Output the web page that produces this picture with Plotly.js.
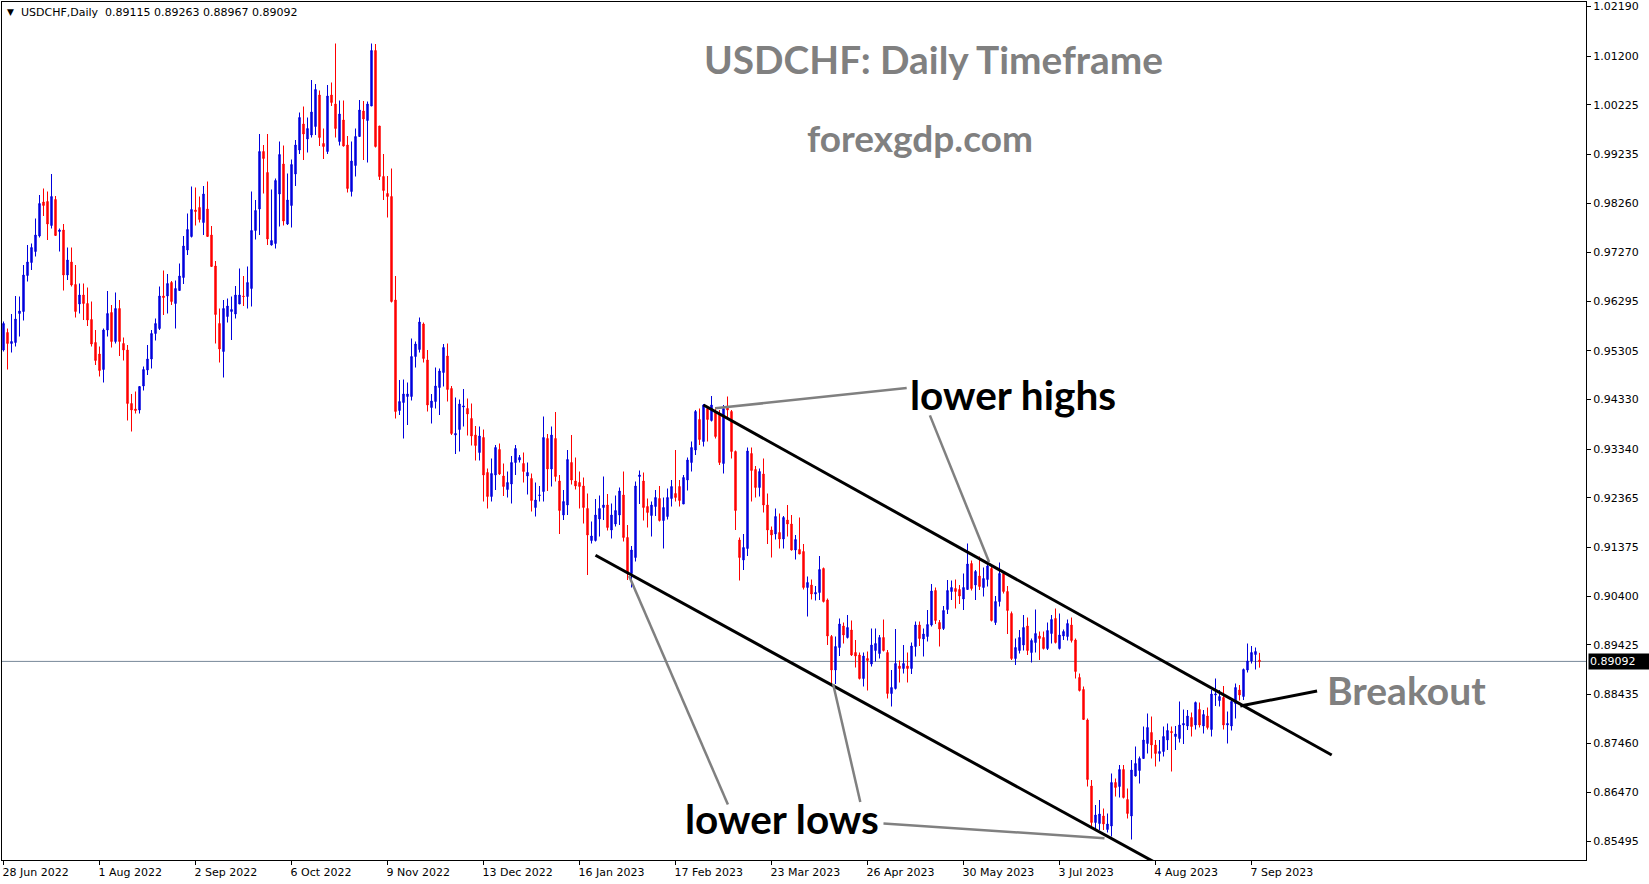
<!DOCTYPE html>
<html>
<head>
<meta charset="utf-8">
<script src="https://cdn.plot.ly/plotly-3.0.1.min.js"></script>
<style>
html,body{margin:0;padding:0;background:#fff;}
#chart{width:1649px;height:884px;}
</style>
</head>
<body>
<div id="chart"></div>
<script>
// ---- Data: USDCHF daily bars (bar 0 = 28 Jun 2022) ----
const opens = [
0.9532,0.9567,0.9545,0.9547,0.9605,0.9609,0.9681,0.9707,0.9729,0.9760,
0.9828,0.9829,0.9781,0.9833,0.9769,0.9772,0.9682,0.9708,0.9663,0.9624,
0.9642,0.9625,0.9593,0.9547,0.9524,0.9493,0.9572,0.9607,0.9549,0.9615,
0.9545,0.9532,0.9425,0.9414,0.9412,0.9460,0.9492,0.9514,0.9565,0.9575,
0.9640,0.9640,0.9667,0.9625,0.9651,0.9677,0.9732,0.9759,0.9812,0.9817,
0.9787,0.9814,0.9762,0.9700,0.9585,0.9529,0.9599,0.9609,0.9604,0.9624,
0.9640,0.9639,0.9655,0.9771,0.9814,0.9929,0.9887,0.9742,0.9745,0.9844,
0.9904,0.9784,0.9821,0.9884,0.9932,0.9984,0.9954,0.9962,0.9979,1.0042,
0.9945,0.9929,1.0042,1.0024,0.9949,0.9992,0.9942,0.9849,0.9901,0.9959,
1.0010,0.9991,1.0020,1.0131,0.9980,0.9879,0.9845,0.9839,0.9632,0.9411,
0.9427,0.9439,0.9439,0.9519,0.9533,0.9584,0.9512,0.9417,0.9429,0.9457,
0.9487,0.9520,0.9455,0.9362,0.9373,0.9418,0.9415,0.9395,0.9362,0.9327,
0.9357,0.9287,0.9239,0.9282,0.9333,0.9280,0.9253,0.9264,0.9307,0.9312,
0.9305,0.9280,0.9275,0.9217,0.9241,0.9249,0.9355,0.9294,0.9355,0.9270,
0.9202,0.9222,0.9307,0.9270,0.9267,0.9260,0.9215,0.9151,0.9151,0.9194,
0.9217,0.9222,0.9172,0.9184,0.9202,0.9242,0.9157,0.9085,0.9117,0.9279,
0.9270,0.9219,0.9201,0.9219,0.9235,0.9191,0.9199,0.9235,0.9245,0.9259,
0.9224,0.9272,0.9307,0.9332,0.9393,0.9349,0.9415,0.9391,0.9409,0.9405,
0.9305,0.9420,0.9409,0.9329,0.9152,0.9112,0.9135,0.9325,0.9293,0.9257,
0.9284,0.9222,0.9172,0.9164,0.9167,0.9154,0.9192,0.9184,0.9132,0.9133,
0.9129,0.9057,0.9062,0.9044,0.9047,0.9095,0.9032,0.8959,0.8892,0.8937,
0.8980,0.8957,0.8972,0.8927,0.8922,0.8875,0.8915,0.8904,0.8931,0.8925,
0.8957,0.8927,0.8845,0.8855,0.8900,0.8895,0.8900,0.8895,0.8939,0.8982,
0.8954,0.8959,0.8982,0.9051,0.8987,0.8975,0.9013,0.9049,0.9055,0.9053,
0.9034,0.9053,0.9105,0.9062,0.9080,0.9057,0.9073,0.9095,0.8987,0.9029,
0.9085,0.9049,0.9005,0.8915,0.8931,0.8942,0.8980,0.8927,0.8947,0.8960,
0.8957,0.8935,0.8965,0.8995,0.8935,0.8960,0.8959,0.8982,0.8952,0.8877,
0.8853,0.8792,0.8660,0.8587,0.8585,0.8600,0.8573,0.8580,0.8667,0.8659,
0.8693,0.8633,0.8600,0.8680,0.8691,0.8715,0.8745,0.8767,0.8742,0.8725,
0.8729,0.8752,0.8769,0.8759,0.8755,0.8782,0.8780,0.8797,0.8782,0.8813,
0.8780,0.8800,0.8773,0.8842,0.8831,0.8837,0.8782,0.8780,0.8825,0.8852,
0.8839,0.8892,0.8910,0.8923,0.89115];

const highs = [
0.9589,0.9575,0.9604,0.9640,0.9639,0.9702,0.9742,0.9745,0.9795,0.9842,
0.9855,0.9849,0.9884,0.9840,0.9775,0.9784,0.9737,0.9737,0.9702,0.9665,
0.9665,0.9657,0.9629,0.9572,0.9539,0.9575,0.9650,0.9622,0.9647,0.9632,
0.9557,0.9542,0.9444,0.9449,0.9460,0.9499,0.9542,0.9572,0.9595,0.9659,
0.9691,0.9684,0.9670,0.9671,0.9705,0.9760,0.9805,0.9859,0.9857,0.9839,
0.9860,0.9869,0.9780,0.9710,0.9615,0.9632,0.9635,0.9639,0.9660,0.9695,
0.9680,0.9699,0.9849,0.9832,0.9964,0.9942,0.9964,0.9853,0.9875,0.9949,
0.9941,0.9885,0.9913,0.9952,1.0007,1.0019,0.9997,1.0072,1.0064,1.0051,
0.9975,1.0062,1.0067,1.0145,1.0031,1.0031,0.9960,0.9949,0.9975,1.0032,
1.0030,1.0029,1.0145,1.0144,0.9980,0.9924,0.9880,0.9895,0.9680,0.9472,
0.9473,0.9467,0.9555,0.9549,0.9597,0.9587,0.9532,0.9444,0.9497,0.9495,
0.9544,0.9545,0.9460,0.9437,0.9433,0.9454,0.9435,0.9425,0.9380,0.9379,
0.9373,0.9295,0.9315,0.9342,0.9345,0.9305,0.9289,0.9320,0.9342,0.9322,
0.9327,0.9307,0.9285,0.9267,0.9260,0.9399,0.9364,0.9379,0.9408,0.9282,
0.9252,0.9332,0.9362,0.9317,0.9289,0.9277,0.9245,0.9189,0.9234,0.9241,
0.9279,0.9244,0.9225,0.9241,0.9257,0.9289,0.9182,0.9140,0.9269,0.9291,
0.9287,0.9235,0.9229,0.9252,0.9260,0.9237,0.9255,0.9272,0.9332,0.9272,
0.9282,0.9317,0.9349,0.9412,0.9415,0.9424,0.9419,0.9440,0.9415,0.9412,
0.9422,0.9439,0.9412,0.9331,0.9157,0.9164,0.9337,0.9337,0.9300,0.9295,
0.9315,0.9245,0.9179,0.9215,0.9205,0.9200,0.9222,0.9202,0.9162,0.9197,
0.9144,0.9079,0.9073,0.9060,0.9120,0.9097,0.9035,0.8962,0.8959,0.8995,
0.8987,0.9002,0.8991,0.8952,0.8927,0.8927,0.8929,0.8975,0.8975,0.8962,
0.8993,0.8932,0.8892,0.8974,0.8911,0.8942,0.8927,0.8947,0.8989,0.8989,
0.8975,0.9012,0.9064,0.9057,0.8992,0.9020,0.9072,0.9071,0.9073,0.9062,
0.9085,0.9145,0.9111,0.9092,0.9119,0.9097,0.9109,0.9100,0.9040,0.9107,
0.9089,0.9060,0.9009,0.8955,0.8972,0.9002,0.8997,0.8955,0.9013,0.8969,
0.8969,0.8987,0.9002,0.9015,0.9005,0.8973,0.8993,0.8997,0.8955,0.8885,
0.8859,0.8795,0.8672,0.8622,0.8632,0.8615,0.8605,0.8685,0.8675,0.8702,
0.8702,0.8655,0.8712,0.8739,0.8719,0.8779,0.8805,0.8799,0.8752,0.8752,
0.8779,0.8785,0.8779,0.8780,0.8829,0.8813,0.8812,0.8807,0.8829,0.8827,
0.8812,0.8817,0.8852,0.8875,0.8852,0.8860,0.8809,0.8832,0.8865,0.8862,
0.8895,0.8945,0.8940,0.8937,0.89263];

const lows = [
0.9529,0.9493,0.9527,0.9539,0.9559,0.9591,0.9669,0.9692,0.9719,0.9757,
0.9800,0.9752,0.9775,0.9760,0.9729,0.9651,0.9672,0.9659,0.9597,0.9605,
0.9592,0.9580,0.9539,0.9502,0.9479,0.9467,0.9559,0.9537,0.9545,0.9520,
0.9511,0.9391,0.9369,0.9405,0.9405,0.9451,0.9482,0.9495,0.9551,0.9572,
0.9602,0.9605,0.9622,0.9575,0.9651,0.9664,0.9722,0.9757,0.9781,0.9787,
0.9762,0.9759,0.9699,0.9545,0.9507,0.9477,0.9587,0.9552,0.9595,0.9624,
0.9620,0.9615,0.9619,0.9753,0.9762,0.9845,0.9742,0.9741,0.9735,0.9779,
0.9781,0.9782,0.9777,0.9860,0.9924,0.9912,0.9927,0.9957,0.9962,0.9940,
0.9914,0.9924,1.0020,0.9957,0.9941,0.9939,0.9847,0.9839,0.9879,0.9959,
0.9912,0.9907,1.0020,0.9937,0.9872,0.9832,0.9797,0.9627,0.9395,0.9402,
0.9355,0.9382,0.9431,0.9497,0.9527,0.9507,0.9409,0.9385,0.9415,0.9402,
0.9459,0.9429,0.9362,0.9324,0.9329,0.9379,0.9361,0.9341,0.9311,0.9311,
0.9229,0.9215,0.9229,0.9252,0.9282,0.9240,0.9237,0.9225,0.9282,0.9307,
0.9267,0.9243,0.9209,0.9199,0.9229,0.9229,0.9250,0.9259,0.9269,0.9164,
0.9192,0.9202,0.9263,0.9253,0.9215,0.9185,0.9082,0.9145,0.9149,0.9159,
0.9192,0.9171,0.9155,0.9179,0.9182,0.9149,0.9072,0.9057,0.9109,0.9224,
0.9191,0.9177,0.9159,0.9200,0.9189,0.9135,0.9193,0.9219,0.9229,0.9219,
0.9224,0.9251,0.9289,0.9322,0.9342,0.9339,0.9349,0.9389,0.9355,0.9302,
0.9285,0.9392,0.9315,0.9172,0.9071,0.9092,0.9120,0.9229,0.9237,0.9239,
0.9207,0.9144,0.9117,0.9153,0.9135,0.9135,0.9159,0.9131,0.9113,0.9124,
0.9053,0.8999,0.9033,0.9031,0.9032,0.9027,0.8942,0.8864,0.8864,0.8920,
0.8945,0.8955,0.8920,0.8897,0.8873,0.8859,0.8851,0.8899,0.8909,0.8915,
0.8929,0.8835,0.8819,0.8853,0.8867,0.8885,0.8867,0.8884,0.8919,0.8940,
0.8919,0.8949,0.8979,0.8984,0.8939,0.8972,0.9004,0.9032,0.9015,0.9024,
0.9012,0.9053,0.9051,0.9032,0.9052,0.9039,0.9059,0.8989,0.8982,0.9019,
0.9045,0.8964,0.8912,0.8902,0.8925,0.8931,0.8922,0.8907,0.8927,0.8912,
0.8933,0.8932,0.8945,0.8945,0.8933,0.8952,0.8951,0.8947,0.8875,0.8849,
0.8792,0.8659,0.8578,0.8572,0.8572,0.8572,0.8567,0.8559,0.8639,0.8637,
0.8635,0.8595,0.8553,0.8679,0.8665,0.8715,0.8725,0.8715,0.8699,0.8709,
0.8719,0.8732,0.8689,0.8732,0.8747,0.8744,0.8772,0.8759,0.8773,0.8777,
0.8765,0.8773,0.8759,0.8820,0.8819,0.8773,0.8745,0.8771,0.8795,0.8831,
0.8832,0.8887,0.8905,0.8893,0.88967];

const closes = [
0.9585,0.9545,0.9549,0.9594,0.9610,0.9682,0.9708,0.9737,0.9762,0.9825,
0.9821,0.9784,0.9839,0.9761,0.9772,0.9682,0.9712,0.9662,0.9609,0.9642,
0.9625,0.9592,0.9544,0.9511,0.9491,0.9572,0.9605,0.9549,0.9615,0.9549,
0.9532,0.9425,0.9412,0.9411,0.9459,0.9493,0.9514,0.9565,0.9585,0.9640,
0.9637,0.9665,0.9629,0.9655,0.9680,0.9740,0.9773,0.9813,0.9809,0.9793,
0.9844,0.9759,0.9699,0.9603,0.9534,0.9615,0.9620,0.9613,0.9642,0.9642,
0.9639,0.9667,0.9771,0.9811,0.9929,0.9915,0.9754,0.9751,0.9871,0.9923,
0.9790,0.9832,0.9903,0.9942,0.9997,0.9964,0.9975,1.0008,1.0053,0.9957,
0.9939,1.0040,1.0027,0.9975,1.0004,0.9940,0.9855,0.9910,0.9959,1.0012,
0.9994,1.0024,1.0131,0.9939,0.9879,0.9851,0.9839,0.9629,0.9409,0.9429,
0.9444,0.9444,0.9519,0.9544,0.9588,0.9515,0.9422,0.9430,0.9460,0.9490,
0.9537,0.9453,0.9365,0.9365,0.9424,0.9420,0.9404,0.9360,0.9341,0.9360,
0.9282,0.9239,0.9285,0.9337,0.9284,0.9259,0.9267,0.9307,0.9335,0.9317,
0.9289,0.9287,0.9231,0.9232,0.9242,0.9357,0.9294,0.9362,0.9279,0.9211,
0.9229,0.9313,0.9272,0.9260,0.9259,0.9217,0.9162,0.9160,0.9202,0.9215,
0.9222,0.9177,0.9202,0.9211,0.9250,0.9157,0.9087,0.9132,0.9260,0.9282,
0.9217,0.9207,0.9222,0.9237,0.9191,0.9217,0.9237,0.9259,0.9237,0.9231,
0.9277,0.9312,0.9337,0.9409,0.9353,0.9422,0.9393,0.9422,0.9359,0.9307,
0.9415,0.9412,0.9329,0.9211,0.9117,0.9137,0.9330,0.9291,0.9257,0.9289,
0.9222,0.9172,0.9162,0.9199,0.9154,0.9197,0.9184,0.9132,0.9153,0.9124,
0.9057,0.9067,0.9044,0.9047,0.9093,0.9029,0.8960,0.8892,0.8939,0.8984,
0.8962,0.8977,0.8922,0.8920,0.8875,0.8920,0.8911,0.8942,0.8945,0.8957,
0.8931,0.8845,0.8857,0.8905,0.8895,0.8905,0.8895,0.8940,0.8982,0.8955,
0.8964,0.8983,0.9050,0.8991,0.8974,0.9011,0.9051,0.9057,0.9049,0.9040,
0.9057,0.9104,0.9055,0.9089,0.9059,0.9075,0.9100,0.8991,0.9029,0.9085,
0.9049,0.9011,0.8915,0.8937,0.8957,0.8977,0.8931,0.8951,0.8965,0.8955,
0.8935,0.8971,0.8993,0.8947,0.8962,0.8969,0.8985,0.8951,0.8889,0.8851,
0.8793,0.8673,0.8587,0.8602,0.8604,0.8584,0.8584,0.8667,0.8657,0.8693,
0.8637,0.8605,0.8692,0.8705,0.8715,0.8752,0.8777,0.8742,0.8725,0.8729,
0.8759,0.8771,0.8767,0.8764,0.8782,0.8785,0.8800,0.8779,0.8827,0.8782,
0.8803,0.8777,0.8844,0.8844,0.8839,0.8782,0.8785,0.8829,0.8857,0.8842,
0.8893,0.8910,0.8927,0.8929,0.89092];

// x-axis date labels and the bar numbers they sit on
const dateTickBars = [0,24,48,72,96,120,144,168,192,216,240,264,288,312];
const dateTickLabels = ['28 Jun 2022','1 Aug 2022','2 Sep 2022','6 Oct 2022','9 Nov 2022','13 Dec 2022',
  '16 Jan 2023','17 Feb 2023','23 Mar 2023','26 Apr 2023','30 May 2023','3 Jul 2023','4 Aug 2023','7 Sep 2023'];

// y-axis price labels
const priceTicks = [1.02190,1.01200,1.00225,0.99235,0.98260,0.97270,0.96295,0.95305,0.94330,
  0.93340,0.92365,0.91375,0.90400,0.89425,0.88435,0.87460,0.86470,0.85495];
const priceTickLabels = ['1.02190','1.01200','1.00225','0.99235','0.98260','0.97270','0.96295','0.95305','0.94330',
  '0.93340','0.92365','0.91375','0.90400','0.89425','0.88435','0.87460','0.86470','0.85495'];

const symbol = 'USDCHF,Daily';
const lastBar = {open:0.89115, high:0.89263, low:0.88967, close:0.89092};

// ---- Build chart ----
const barNo = opens.map((_, i) => i);

const candles = {
  type: 'candlestick',
  x: barNo, open: opens, high: highs, low: lows, close: closes,
  increasing: {line: {color: '#0000dd', width: 1}, fillcolor: '#0000dd'},
  decreasing: {line: {color: '#ff0000', width: 1}, fillcolor: '#ff0000'},
  whiskerwidth: 0,
  hoverinfo: 'skip',
  showlegend: false
};

function seg(x0, y0, x1, y1, color, width) {
  return {type: 'line', xref: 'x', yref: 'y', x0: x0, y0: y0, x1: x1, y1: y1,
          line: {color: color, width: width}, layer: 'above'};
}

// pixel-positioned text relative to top-left of plot area (plot area starts at page px 2,2)
function pxText(text, px, py, opts) {
  return Object.assign({
    xref: 'paper', yref: 'paper', x: 0, y: 1,
    xshift: px - 2, yshift: -(py - 2),
    text: text, showarrow: false, xanchor: 'center', yanchor: 'middle'
  }, opts || {});
}

const GRAY = '#808080';
const shapes = [
  // current price line
  {type: 'line', xref: 'paper', yref: 'y', x0: 0, x1: 1, y0: lastBar.close, y1: lastBar.close,
   line: {color: '#778899', width: 1}, layer: 'below'},
  // descending channel
  seg(175.0, 0.9422, 332.05, 0.8722, '#000000', 3),
  seg(148.0, 0.91214, 289.2, 0.85014, '#000000', 3),
  // pointers
  seg(177.9, 0.94154, 225.8, 0.9456, GRAY, 2.5),
  seg(231.6, 0.94012, 246.4, 0.9108, GRAY, 2.5),
  seg(156.4, 0.9080, 181.1, 0.8623, GRAY, 2.5),
  seg(207.4, 0.8864, 214.2, 0.8628, GRAY, 2.5),
  seg(220.0, 0.8585, 275.25, 0.85556, GRAY, 2.5),
  seg(309.2, 0.8820, 328.4, 0.8850, '#000000', 3)
];

const bold = 'Lato, "Open Sans", "DejaVu Sans", sans-serif';
const annotations = [
  pxText('USDCHF: Daily Timeframe', 933, 59, {font: {family: bold, size: 38.8, color: GRAY, weight: 'bold'}}),
  pxText('forexgdp.com', 920, 137, {font: {family: bold, size: 37, color: GRAY, weight: 'bold'}}),
  pxText('lower highs', 1013, 394, {font: {family: bold, size: 40.5, color: '#000000', weight: 'bold'}}),
  pxText('lower lows', 782, 818, {font: {family: bold, size: 40.5, color: '#000000', weight: 'bold'}}),
  pxText('Breakout', 1406, 690, {font: {family: bold, size: 39, color: GRAY, weight: 'bold'}}),
  pxText('\u25BC', 10.5, 12, {font: {family: 'DejaVu Sans', size: 9, color: '#000000'}}),
  pxText(symbol + '&nbsp;&nbsp;' + [lastBar.open, lastBar.high, lastBar.low, lastBar.close].map(v => v.toFixed(5)).join(' '),
         19, 12.5, {xanchor: 'left', font: {family: 'DejaVu Sans', size: 11, color: '#000000'}}),
  // current price tag on the price scale
  {xref: 'paper', yref: 'y', x: 1, y: lastBar.close, xanchor: 'left', yanchor: 'middle', xshift: 2,
   text: lastBar.close.toFixed(5), showarrow: false, bgcolor: '#000000', borderpad: 1, width: 58, align: 'left',
   font: {family: 'DejaVu Sans', size: 11, color: '#ffffff'}}
];

const axisFont = {family: 'DejaVu Sans', size: 11, color: '#000000'};
const layout = {
  width: 1649, height: 884,
  margin: {l: 2, r: 63, t: 2, b: 24, pad: 0},
  paper_bgcolor: '#ffffff', plot_bgcolor: '#ffffff',
  showlegend: false,
  boxgap: 0.5,
  xaxis: {
    range: [-0.375, 395.625], rangeslider: {visible: false}, fixedrange: true,
    showgrid: false, zeroline: false, showline: true, mirror: true, linecolor: '#000000', linewidth: 1,
    ticks: 'outside', ticklen: 4, tickcolor: '#000000', tickwidth: 1,
    tickmode: 'array', tickvals: dateTickBars, ticktext: dateTickLabels,
    ticklabelposition: 'outside right', ticklabelshift: -2, ticklabelstandoff: 2, tickfont: axisFont
  },
  yaxis: {
    side: 'right', range: [0.8512, 1.0228], fixedrange: true,
    showgrid: false, zeroline: false, showline: true, mirror: true, linecolor: '#000000', linewidth: 1,
    ticks: 'outside', ticklen: 4, tickcolor: '#000000', tickwidth: 1,
    tickmode: 'array', tickvals: priceTicks, ticktext: priceTickLabels, tickfont: axisFont
  },
  shapes: shapes,
  annotations: annotations
};

Plotly.newPlot('chart', [candles], layout, {displayModeBar: false, staticPlot: true});
</script>
</body>
</html>
